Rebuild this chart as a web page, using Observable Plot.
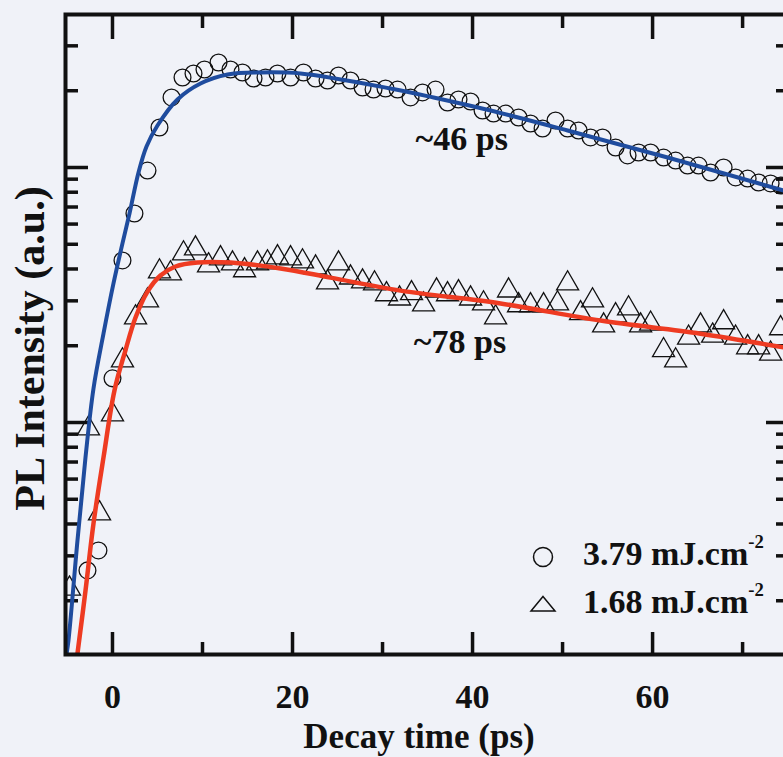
<!DOCTYPE html>
<html>
<head>
<meta charset="utf-8">
<script src="https://cdn.jsdelivr.net/npm/d3@7"></script>
<script src="https://cdn.jsdelivr.net/npm/@observablehq/plot@0.6"></script>
<style>
  html, body { margin: 0; padding: 0; background: #f0f2f8; overflow: hidden; }
  #wrap { position: relative; width: 783px; height: 757px; }
  .lg { position: absolute; font-family: "Liberation Serif", "Times New Roman", serif; font-weight: bold; color: #111; white-space: nowrap; line-height: 34px; }
  .lg sup { font-size: 0.55em; position: relative; top: -0.25em; vertical-align: super; line-height: 0; }
  .sym { position: absolute; }
</style>
</head>
<body>
<div id="wrap"></div>
<script>
// ---- data ----
// 3.79 mJ/cm^2 (circles)
const circleTime = [-2.78, -1.56, 0, 1.11, 2.44, 3.89, 5.22, 6.56, 7.78, 9.0, 10.22, 11.78, 13.11, 14.44, 15.67, 17.0, 18.33, 19.78,
  21.22, 22.56, 23.89, 25.11, 26.44, 27.78, 29.0, 30.33, 31.67, 33.11, 34.44, 35.89, 37.22, 38.44, 39.78, 41.11, 42.33, 43.67,
  45.11, 46.44, 47.78, 49.22, 50.56, 51.78, 53.11, 54.44, 55.89, 57.22, 58.44, 59.78, 61.22, 62.56, 63.89, 65.11, 66.44, 67.89,
  69.22, 70.56, 71.78, 73.11, 74.22];
const circleIntensity = [2.63, 3.15, 14.9, 43.2, 66.0, 97.3, 143.5, 188.2, 225.4, 233.7, 242.3, 258.1, 242.3, 235.8, 223.4, 225.4, 233.7, 225.4,
  235.8, 223.4, 219.4, 229.5, 219.4, 205.9, 202.2, 204.1, 202.2, 188.2, 196.9, 202.2, 179.8, 184.8, 181.5, 167.3, 162.8, 162.8,
  157.1, 148.8, 142.2, 152.9, 142.2, 139.7, 131.2, 131.2, 119.8, 111.5, 114.5, 114.5, 109.4, 106.5, 101.8, 101.8, 95.6, 100.0,
  91.4, 90.5, 87.3, 86.6, 85.0];
// 1.68 mJ/cm^2 (triangles)
const triangleTime = [-4.78, -2.67, -1.44, 0, 1.11, 2.56, 3.89, 5.22, 6.44, 7.89, 9.22, 10.67, 12.0, 13.33, 14.67, 16.11, 17.22, 18.33, 19.78,
  21.11, 22.56, 23.89, 25.11, 26.44, 27.78, 29.11, 30.44, 31.89, 33.22, 34.56, 36.0, 37.22, 38.44, 39.78, 41.22, 42.56, 44.0,
  45.11, 46.44, 47.89, 49.44, 50.56, 52.0, 53.33, 54.56, 55.89, 57.33, 58.67, 59.78, 61.22, 62.56, 64.0, 65.33, 66.67, 67.89,
  69.22, 70.56, 71.78, 73.11, 74.22];
const triangleIntensity = [2.23, 9.47, 4.40, 10.75, 17.5, 25.8, 30.1, 39.1, 38.4, 46.0, 48.1, 41.3, 44.0, 42.0, 39.5, 42.0, 42.4, 44.4, 44.0,
  42.8, 40.5, 35.4, 42.0, 37.0, 35.7, 35.1, 31.8, 30.6, 32.1, 29.0, 32.9, 31.8, 32.4, 30.6, 29.3, 25.8, 32.9,
  28.8, 28.8, 28.8, 29.3, 35.1, 26.8, 30.1, 24.0, 26.3, 28.0, 24.0, 24.4, 19.2, 17.5, 21.5, 24.0, 21.9, 24.7,
  21.5, 19.7, 19.7, 18.6, 23.4];
// fitted curves
const blueFitTime = [-5.11, -4.89, -3.89, -3.0, -2.11, -1.0, 0.11, 1.11, 1.89, 2.89, 3.78, 5.0, 7.22, 9.78, 12.78, 16.44, 20.89, 30.89, 35.67, 42.0, 50.56, 61.67, 74.56];
const blueFitIntensity = [1.231, 1.397, 3.445, 7.29, 13.6, 22.3, 35.1, 50.4, 66.0, 95.6, 120.9, 146.1, 184.8, 213.5, 231.6, 235.8, 233.7, 204.1, 188.2, 167.3, 139.7, 109.4, 81.2];
const redFitTime = [-3.95, -3.89, -3.0, -2.11, -1.0, 0.22, 1.44, 2.56, 3.89, 5.33, 7.0, 9.44, 13.11, 18.67, 24.22, 32.0, 43.11, 54.22, 65.33, 74.56];
const redFitIntensity = [1.2, 1.242, 2.19, 4.02, 7.29, 13.35, 19.2, 25.8, 32.6, 37.7, 40.9, 42.4, 42.4, 40.2, 37.0, 32.9, 29.3, 25.1, 22.3, 19.7];

const xMajorTicks = [0, 20, 40, 60];
const xMinorTicks = [10, 30, 50, 70];
const yMajorTicks = [10, 100];
const yMinorTicks = [2, 3, 4, 5, 6, 7, 8, 9, 20, 30, 40, 50, 60, 70, 80, 90, 200, 300];
const seriesLabels = ["3.79 mJ.cm", "1.68 mJ.cm"];
const fitLabels = ["~46 ps", "~78 ps"];
const xTitle = "Decay time (ps)";
const yTitle = "PL Intensity (a.u.)";

const circles = circleTime.map((t, i) => ({t, v: circleIntensity[i]}));
const triangles = triangleTime.map((t, i) => ({t, v: triangleIntensity[i]}));
const blueFit = blueFitTime.map((t, i) => ({t, v: blueFitIntensity[i]}));
const redFit = redFitTime.map((t, i) => ({t, v: redFitIntensity[i]}));

const INK = "#111";
const FONT = "'Liberation Serif', 'Times New Roman', serif";
const BLUE = "#1f4c9e";
const RED = "#ee3b22";

const tickOpts = {stroke: INK, strokeWidth: 3.5, fill: "none", label: null};

const chart = Plot.plot({
  width: 783,
  height: 757,
  marginLeft: 65,
  marginRight: -5,
  marginTop: 14,
  marginBottom: 103,
  style: {background: "transparent", fontFamily: FONT},
  x: {domain: [-5.22, 75.1], axis: null},
  y: {type: "log", domain: [1.231, 398.1], axis: null},
  marks: [
    // inward ticks on all four sides
    Plot.axisX(xMajorTicks, {...tickOpts, anchor: "bottom", tickSize: 22, dy: -22}),
    Plot.axisX(xMinorTicks, {...tickOpts, anchor: "bottom", tickSize: 12, dy: -12}),
    Plot.axisX(xMajorTicks, {...tickOpts, anchor: "top", tickSize: 24, dy: 24}),
    Plot.axisX(xMinorTicks, {...tickOpts, anchor: "top", tickSize: 13, dy: 13}),
    Plot.axisY(yMajorTicks, {...tickOpts, anchor: "left", tickSize: 23, dx: 23}),
    Plot.axisY(yMinorTicks, {...tickOpts, anchor: "left", tickSize: 13, dx: 13}),
    Plot.axisY(yMajorTicks, {...tickOpts, anchor: "right", tickSize: 23, dx: -23}),
    Plot.axisY(yMinorTicks, {...tickOpts, anchor: "right", tickSize: 13, dx: -13}),
    // data markers
    Plot.dot(circles, {x: "t", y: "v", r: 8.4, stroke: INK, strokeWidth: 1.3, fill: "none", clip: true}),
    Plot.dot(triangles, {x: "t", y: "v", symbol: "triangle", r: 8.2, stroke: INK, strokeWidth: 1.3, fill: "none", clip: true}),
    // fits
    Plot.line(blueFit, {x: "t", y: "v", stroke: BLUE, strokeWidth: 4, curve: "catmull-rom", clip: true}),
    Plot.line(redFit, {x: "t", y: "v", stroke: RED, strokeWidth: 4.5, curve: "catmull-rom", clip: true}),
    // frame
    Plot.frame({stroke: INK, strokeWidth: 4}),
    // tick labels
    Plot.text(xMajorTicks, {x: d => d, text: d => String(d), frameAnchor: "bottom", dy: 43, lineAnchor: "middle",
      fontSize: 34, fontWeight: "bold", fill: INK}),
    // axis titles
    Plot.text([xTitle], {frameAnchor: "bottom", textAnchor: "middle", dx: -8, dy: 82, lineAnchor: "middle", fontSize: 35, fontWeight: "bold", fill: INK}),
    Plot.text([yTitle], {frameAnchor: "left", textAnchor: "middle", rotate: -90, dx: -35, dy: 14, lineAnchor: "middle", fontSize: 42, fontWeight: "bold", fill: INK}),
    // lifetime annotations
    Plot.text([fitLabels[0]], {x: 38.8, y: 128.8, lineAnchor: "middle", fontSize: 34, fontWeight: "bold", fill: INK}),
    Plot.text([fitLabels[1]], {x: 38.6, y: 20.6, lineAnchor: "middle", fontSize: 34, fontWeight: "bold", fill: INK})
  ]
});

const wrap = document.getElementById("wrap");
wrap.appendChild(chart);

// legend (HTML overlay)
function addLegendRow(label, symbol, cx, cy, textLeft, textTop) {
  const ns = "http://www.w3.org/2000/svg";
  const s = document.createElementNS(ns, "svg");
  s.setAttribute("width", 30); s.setAttribute("height", 30);
  s.setAttribute("class", "sym");
  s.style.left = (cx - 15) + "px"; s.style.top = (cy - 15) + "px";
  let shape;
  if (symbol === "circle") {
    shape = document.createElementNS(ns, "circle");
    shape.setAttribute("cx", 15); shape.setAttribute("cy", 15); shape.setAttribute("r", 9.5);
  } else {
    shape = document.createElementNS(ns, "path");
    shape.setAttribute("d", "M15,7.5 L27,22 L3,22 Z");
  }
  shape.setAttribute("fill", "none"); shape.setAttribute("stroke", INK); shape.setAttribute("stroke-width", 1.5);
  s.appendChild(shape);
  wrap.appendChild(s);
  const d = document.createElement("div");
  d.className = "lg";
  d.style.left = textLeft + "px"; d.style.top = textTop + "px";
  d.style.fontSize = "34px";
  d.innerHTML = label + "<sup>-2</sup>";
  wrap.appendChild(d);
}
addLegendRow(seriesLabels[0], "circle", 543, 557, 583, 537);
addLegendRow(seriesLabels[1], "triangle", 543, 604, 583, 585);
</script>
</body>
</html>
